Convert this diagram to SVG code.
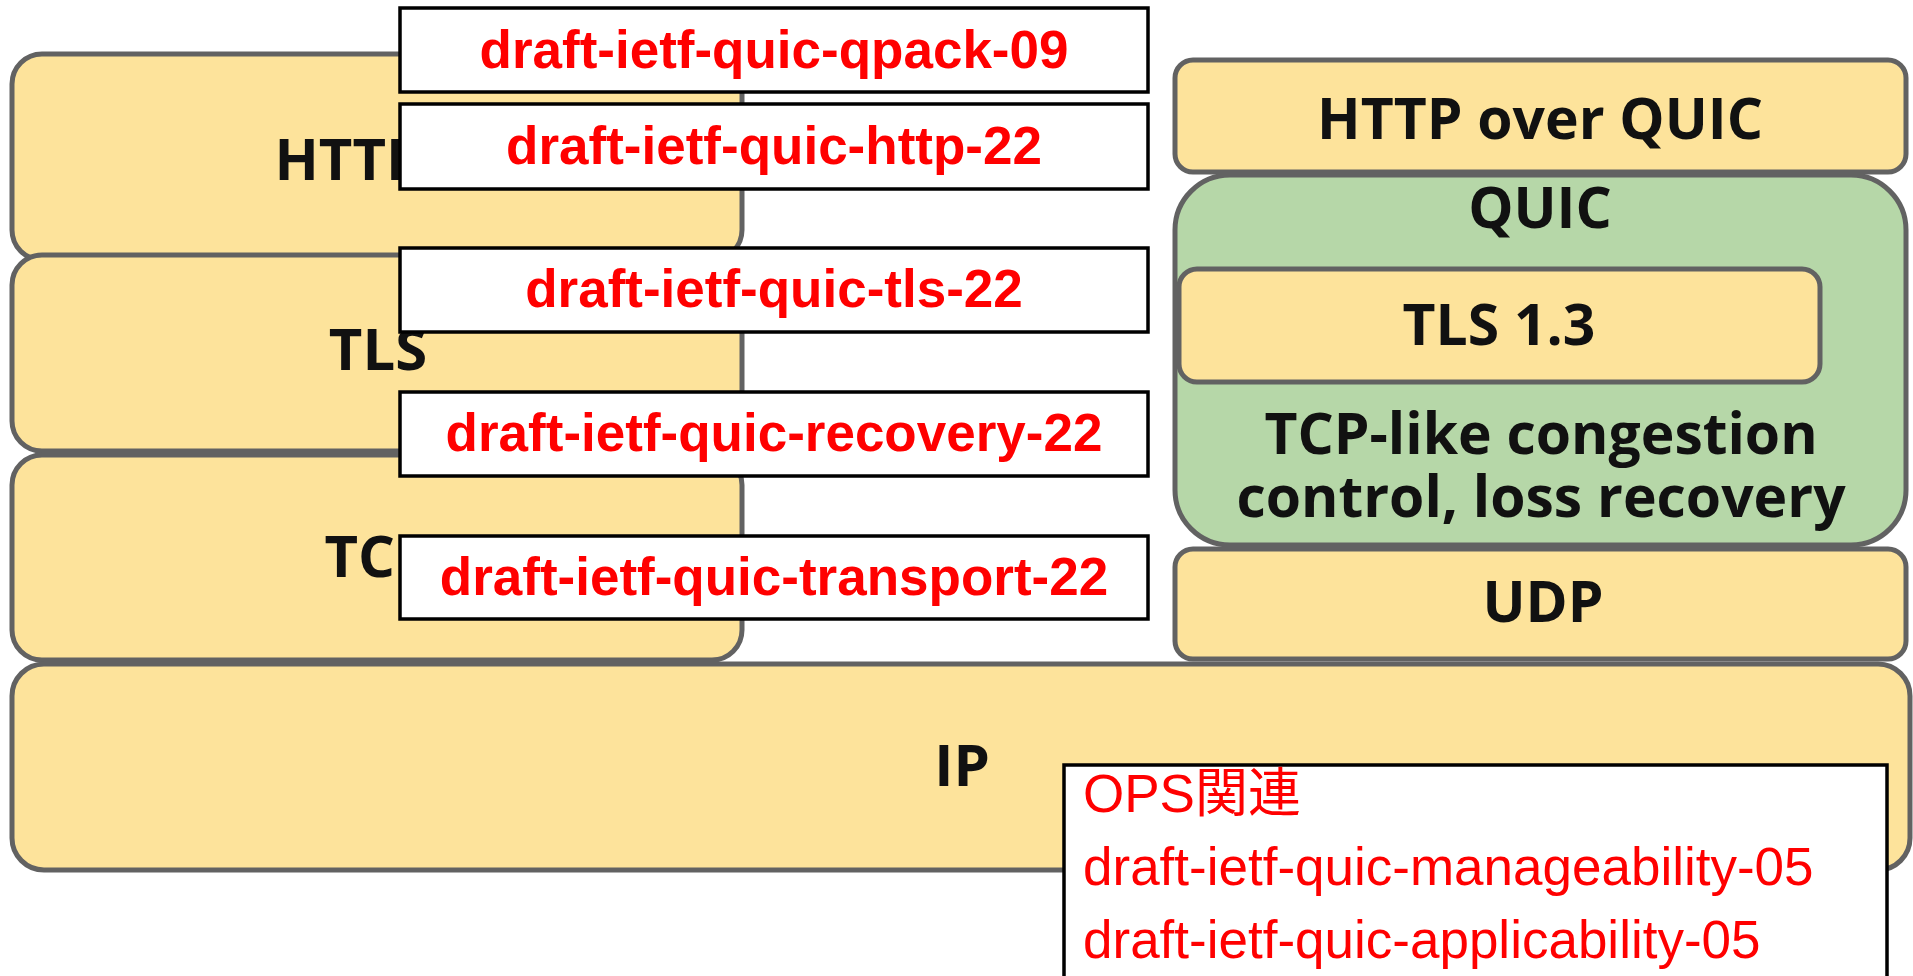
<svg xmlns="http://www.w3.org/2000/svg" width="1913" height="976" viewBox="0 0 1913 976">
<style>
.y{fill:#FDE39B;stroke:#626262;stroke-width:5}
.g{fill:#B6D7A8;stroke:#626262;stroke-width:5}
.lb{font-family:"Open Sans","DejaVu Sans",sans-serif;font-weight:700;fill:#111;text-anchor:middle}
.rb{fill:#fff;stroke:#000;stroke-width:3.5}
.rt{font-family:"Liberation Sans",Arial,sans-serif;font-weight:700;font-size:53px;fill:#FF0000;text-anchor:middle}
.ot{font-family:"Liberation Sans",Arial,"Noto Sans CJK JP",sans-serif;font-size:53px;fill:#FF0000}
</style>
<rect width="1913" height="976" fill="#fff"/>
<g id="left-http2"><rect class="y" x="12" y="54" width="730" height="206" rx="30"/><text class="lb" x="377" y="180" font-size="58">HTTP/2</text></g>
<g id="left-tls"><rect class="y" x="12" y="255" width="730" height="196" rx="30"/><text class="lb" x="378" y="370" font-size="58">TLS</text></g>
<g id="left-tcp"><rect class="y" x="12" y="455" width="730" height="205" rx="30"/><text class="lb" x="378" y="577" font-size="58">TCP</text></g>
<g id="quic"><rect class="g" x="1175" y="175" width="731" height="370" rx="55"/><text class="lb" x="1540" y="228" font-size="57">QUIC</text><text class="lb" font-size="57"><tspan x="1541" y="454">TCP-like congestion</tspan><tspan x="1541" y="517">control, loss recovery</tspan></text></g>
<g id="http-over-quic"><rect class="y" x="1175" y="60" width="731" height="112" rx="18"/><text class="lb" x="1540" y="139" font-size="57">HTTP over QUIC</text></g>
<g id="tls13"><rect class="y" x="1179" y="269" width="641" height="113" rx="18"/><text class="lb" x="1499" y="345" font-size="57">TLS 1.3</text></g>
<g id="udp"><rect class="y" x="1175" y="549" width="731" height="110" rx="18"/><text class="lb" x="1543" y="622" font-size="57">UDP</text></g>
<g id="ip"><rect class="y" x="12" y="664" width="1898" height="206" rx="32"/><text class="lb" x="962" y="786" font-size="58">IP</text></g>
<g id="connectors"></g>
<g id="draft-qpack"><rect class="rb" x="400" y="8" width="748" height="84"/><text class="rt" x="774" y="68">draft-ietf-quic-qpack-09</text></g>
<g id="draft-http"><rect class="rb" x="400" y="104" width="748" height="85"/><text class="rt" x="774" y="164">draft-ietf-quic-http-22</text></g>
<g id="draft-tls"><rect class="rb" x="400" y="248" width="748" height="84"/><text class="rt" x="774" y="307">draft-ietf-quic-tls-22</text></g>
<g id="draft-recovery"><rect class="rb" x="400" y="392" width="748" height="84"/><text class="rt" x="774" y="451">draft-ietf-quic-recovery-22</text></g>
<g id="draft-transport"><rect class="rb" x="400" y="536" width="748" height="83"/><text class="rt" x="774" y="595">draft-ietf-quic-transport-22</text></g>
<g id="ops"><rect class="rb" x="1064" y="765" width="823" height="215"/><text class="ot" x="1083" y="812">OPS関連</text><text class="ot" x="1083" y="885">draft-ietf-quic-manageability-05</text><text class="ot" x="1083" y="958">draft-ietf-quic-applicability-05</text></g>
</svg>
